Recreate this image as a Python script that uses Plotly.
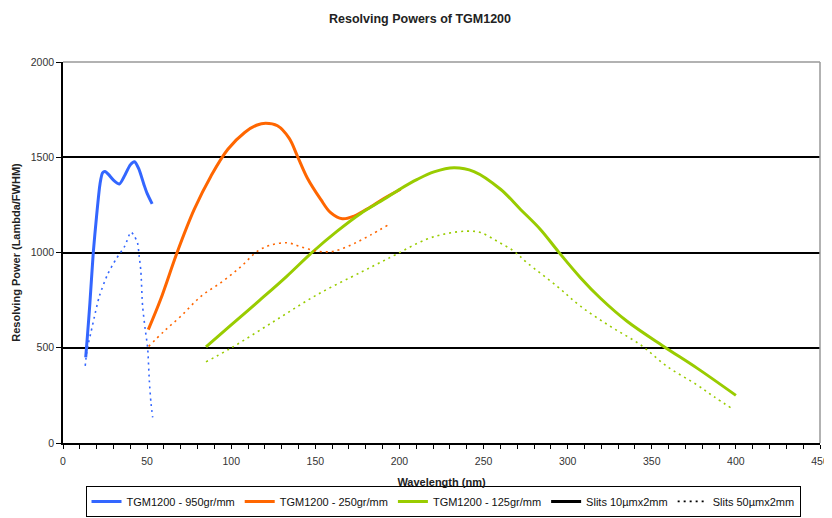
import plotly.graph_objects as go

# Data
blue_x = [13.5, 14.5, 16, 18, 20, 22, 23.5, 25, 27, 30, 33.5, 37, 40, 42.5, 45, 48, 50, 53]
blue_y = [450, 560, 735, 1000, 1195, 1360, 1418, 1425, 1410, 1380, 1360, 1410, 1460, 1476, 1440, 1360, 1310, 1255]

blue_dot_x = [13.2, 14, 15, 16.6, 18.6, 21.6, 26.5, 31.5, 36.8, 40.4, 42.5, 44.3, 45.3, 46.3, 47.3, 48.9, 50.3, 51.3, 52.3, 53.3]
blue_dot_y = [405, 470, 520, 580, 660, 770, 885, 965, 1035, 1107, 1085, 1050, 980, 900, 720, 595, 500, 330, 210, 135]

orange_x = [50.7, 58, 68, 78, 88, 98, 108, 115, 120.5, 127.5, 134.4, 139.4, 145.3, 153.2, 159.1, 166, 173, 181, 191, 200.7]
orange_y = [595, 753, 1004, 1226, 1402, 1542, 1630, 1668, 1679, 1665, 1600, 1505, 1390, 1279, 1209, 1177, 1191, 1230, 1285, 1332]

orange_dot_x = [50.9, 60, 70, 82, 95, 106, 115.6, 123.5, 133.4, 141.3, 151.2, 159.1, 164.7, 173, 182.7, 193.7]
orange_dot_y = [507, 586, 665, 770, 849, 928, 1007, 1039, 1051, 1030, 1007, 1004, 1016, 1047, 1091, 1147]

green_x = [85, 100, 117, 133, 148, 163, 177, 190.8, 200.7, 210.6, 220.5, 232.4, 244.3, 260.1, 272, 283.8, 294.7, 307.6, 319.5, 335.3, 357.1, 376.9, 400]
green_y = [505, 620, 750, 875, 1000, 1112, 1205, 1279, 1335, 1384, 1423, 1445, 1425, 1332, 1226, 1121, 1002, 868, 760, 639, 507, 393, 250]

green_dot_x = [85, 99.8, 125.5, 151.2, 177, 186.9, 197.8, 215.6, 228.4, 240.3, 248.2, 258.1, 268, 275.9, 293.7, 307.6, 325.4, 343.2, 359.1, 376.9, 386.8, 398.7]
green_dot_y = [426, 498, 639, 779, 896, 940, 989, 1068, 1100, 1112, 1105, 1059, 1007, 946, 823, 718, 612, 516, 402, 305, 244, 175]

y_ticks = [0, 500, 1000, 1500, 2000]
x_ticks = [0, 50, 100, 150, 200, 250, 300, 350, 400, 450]

BLUE = "#3366FF"
ORANGE = "#FF6600"
GREEN = "#99CC00"
DOT = "2px,4px"
FONT = "Liberation Sans, Arial, sans-serif"

fig = go.Figure()
fig.add_trace(go.Scatter(x=blue_x, y=blue_y, mode="lines", line=dict(color=BLUE, width=3, shape="spline", smoothing=0.7),
                         name="TGM1200 - 950gr/mm"))
fig.add_trace(go.Scatter(x=orange_x, y=orange_y, mode="lines", line=dict(color=ORANGE, width=3, shape="spline", smoothing=1),
                         name="TGM1200 - 250gr/mm"))
fig.add_trace(go.Scatter(x=green_x, y=green_y, mode="lines", line=dict(color=GREEN, width=3, shape="spline", smoothing=1),
                         name="TGM1200 - 125gr/mm"))
fig.add_trace(go.Scatter(x=blue_dot_x, y=blue_dot_y, mode="lines", line=dict(color=BLUE, width=1.6, dash=DOT, shape="spline", smoothing=0.7),
                         showlegend=False))
fig.add_trace(go.Scatter(x=orange_dot_x, y=orange_dot_y, mode="lines", line=dict(color=ORANGE, width=1.6, dash=DOT, shape="spline", smoothing=1),
                         showlegend=False))
fig.add_trace(go.Scatter(x=green_dot_x, y=green_dot_y, mode="lines", line=dict(color=GREEN, width=1.6, dash=DOT, shape="spline", smoothing=1),
                         showlegend=False))
# legend-only entries for the slit styles
fig.add_trace(go.Scatter(x=[None], y=[None], mode="lines", line=dict(color="black", width=3),
                         name="Slits 10µmx2mm"))
fig.add_trace(go.Scatter(x=[None], y=[None], mode="lines", line=dict(color="black", width=1.6, dash=DOT),
                         name="Slits 50µmx2mm"))

# the page body has an 8px margin, so the figure is sized 824x510 to fill the 832x518 window
fig.update_layout(
    width=824, height=510,
    margin=dict(l=55, r=12, t=54, b=75, autoexpand=False),
    paper_bgcolor="white", plot_bgcolor="white",
    font=dict(family=FONT, size=10, color="#222"),
    title=dict(text="<b>Resolving Powers of TGM1200</b>", x=0.5, xanchor="center", y=0.98, yanchor="middle",
               font=dict(family=FONT, size=12.5, color="#222")),
    legend=dict(orientation="h", x=0.502, xanchor="center", y=-0.194, yanchor="bottom",
                bordercolor="black", borderwidth=1, bgcolor="white",
                font=dict(family=FONT, size=11, color="#111"), itemwidth=30, tracegroupgap=0),
    showlegend=True,
)
fig.update_xaxes(range=[0, 450], tickvals=x_ticks, showgrid=False, zeroline=False, automargin=False,
                 showline=True, linecolor="black", linewidth=1.5,
                 ticks="outside", ticklen=4, tickcolor="black", tickwidth=1, ticklabelstandoff=4,
                 minor=dict(dtick=10, ticks="outside", ticklen=4, tickcolor="black", tickwidth=1, showgrid=False),
                 tickfont=dict(size=10.5, color="#333"),
                 title=dict(text="<b>Wavelength (nm)</b>", font=dict(size=11, color="#222"), standoff=12))
fig.update_yaxes(range=[0, 2000], tickvals=y_ticks, showgrid=True, gridcolor="black", gridwidth=1.5,
                 zeroline=False, showline=True, linecolor="black", linewidth=1.5, automargin=False,
                 ticks="outside", ticklen=5, tickcolor="black", tickwidth=1,
                 tickfont=dict(size=10.5, color="#333"),
                 title=dict(text="<b>Resolving Power (Lambda/FWHM)</b>", font=dict(size=11, color="#222"), standoff=8))
# gray frame on top and right of the plot area
fig.add_shape(type="line", xref="paper", yref="paper", x0=0, x1=1, y0=1, y1=1, line=dict(color="#999", width=1.5), layer="above")
fig.add_shape(type="line", xref="paper", yref="paper", x0=1, x1=1, y0=0, y1=1, line=dict(color="#999", width=1.5), layer="above")

fig.write_html("out.html")
